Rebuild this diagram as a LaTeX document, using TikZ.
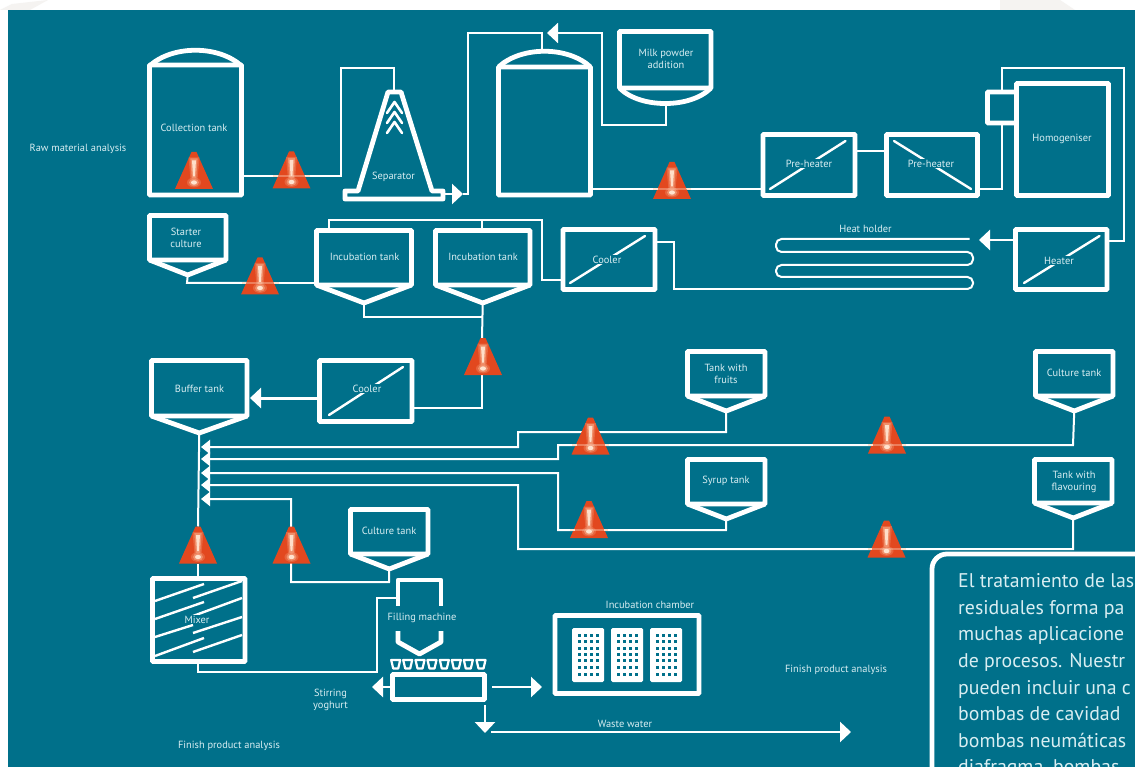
\documentclass[tikz,border=0pt]{standalone}
\usepackage{fontspec}
\setmainfont{PT Sans}
\usetikzlibrary{arrows.meta}
\pgfdeclarelayer{back}
\pgfdeclarelayer{pipes}
\pgfsetlayers{back,pipes,main}
\definecolor{teal0}{HTML}{00708A}
\definecolor{warnred}{HTML}{E2481F}
\definecolor{warnglow}{HTML}{F39A76}
\definecolor{peach}{HTML}{FFE3CF}
\definecolor{txt}{HTML}{D9EEF2}
\definecolor{smear}{HTML}{F5F3F1}
\newcommand{\warnart}{%
  \begin{scope}[shift={(path picture bounding box.center)}]
    \fill[warnred] (-2.5,-18.5)--(2.5,-18.5)--(19,18.5)--(-19,18.5)--cycle;
    \fill[warnglow,opacity=.35] (-5.5,-13)--(5.5,-13)--(3.5,9)--(-3.5,9)--cycle;
    \fill[warnglow,opacity=.8] (-3.6,-12)--(3.6,-12)--(2.2,8)--(-2.2,8)--cycle;
    \fill[peach,opacity=.95] (-2,-10)--(2,-10)--(.9,6)--(-.9,6)--cycle;
    \fill[warnglow,opacity=.35] (0,12) ellipse (7 and 5);
    \fill[warnglow,opacity=.8] (0,12) ellipse (5 and 3.8);
    \fill[peach] (0,12) ellipse (3 and 2.2);
  \end{scope}}
\newcommand{\hopper}[2]{\draw[wall] (#1.south west) -- ([yshift=-#2pt]#1.south) coordinate (#1-out) -- (#1.south east);}
\newcommand{\wline}[3]{%
  \draw[line width=1.6pt,peach,opacity=.35] (#1,#3) -- (#2,#3);
  \draw[tipmark] (#1,#3) -- +(4.5,0);
  \draw[tipmark] (#2,#3) -- +(-4.5,0);}
\tikzset{
  wall/.style={draw=white,line width=4.8pt,line join=round},
  pipe/.style={draw=white,line width=2pt,line join=miter},
  flow/.style={pipe,-{Triangle[length=11pt,width=20pt]}},
  flowsmall/.style={pipe,-{Triangle[length=9pt,width=14pt]}},
  vessel/.style={draw=white,line width=4.8pt,rounded corners=0.8pt,inner sep=0pt,outer sep=0pt},
  lbl/.style={text=txt,font=\fontsize{10.4}{12}\selectfont,align=center,inner sep=1.2pt},
  lblgap/.style={lbl,fill=teal0},
  diag/.style={draw=white,line width=2.4pt,line cap=round},
  warn/.style={minimum width=38pt,minimum height=37pt,inner sep=0pt,outer sep=0pt,path picture={\warnart}},
  tipmark/.style={draw=peach,line width=2.6pt},
  cup/.style={draw=white,line width=2.2pt,line join=round},
}
\begin{document}
\begin{tikzpicture}[x=1pt,y=-1pt]
\useasboundingbox (0,0) rectangle (1135,767);
\clip (0,0) rectangle (1135,767);
\begin{pgfonlayer}{back}
  \fill[white] (0,0) rectangle (1135,767);
  \fill[smear] (0,10) -- (12,4) -- (48,0) -- (30,10) -- cycle;
  \fill[smear] (1000,0) -- (1060,0) -- (1075,10) -- (1000,10) -- cycle;
  \fill[teal0] (8,10) rectangle (1135,767);
\end{pgfonlayer}

% ---- vessels
\node[vessel,minimum width=92pt,minimum height=130pt] (ct) at (195.5,130) {};
\draw[wall] (149.5,66) .. controls (172,45) and (219,45) .. (241.5,66);
\node[vessel,minimum width=92pt,minimum height=128pt] (mt) at (544.5,131) {};
\draw[wall] (498.5,67) .. controls (521,46) and (568,46) .. (590.5,67);
\coordinate (mttop) at (542,49);
\node[vessel,minimum width=91.5pt,minimum height=56.5pt] (milk) at (665.25,59.75) {};
\draw[wall] (milk.south west) .. controls (640,108.7) and (690.5,108.7) .. (milk.south east);
\coordinate (milkout) at (666,104);
\node[vessel,minimum width=92pt,minimum height=61pt] (ph1) at (809,165) {};
\draw[diag] (770,189) -- (845.5,141);
\node[vessel,minimum width=91pt,minimum height=61pt] (ph2) at (932,165) {};
\draw[diag] (894,141) -- (971,189);
\node[vessel,minimum width=29pt,minimum height=31pt] (hbox) at (1002,107.5) {};
\node[vessel,minimum width=92pt,minimum height=112pt] (homo) at (1062.5,139.5) {};
\node[vessel,minimum width=91.5pt,minimum height=60pt] (heater) at (1061.25,259.5) {};
\draw[diag] (1024,283) -- (1099.5,236);
\node[vessel,minimum width=92pt,minimum height=60pt] (cool1) at (609,259.5) {};
\draw[diag] (570,283) -- (645,236);
\node[vessel,minimum width=95pt,minimum height=54.5pt] (inc1) at (364,257.75) {};
\hopper{inc1}{18}
\node[vessel,minimum width=94.5pt,minimum height=54.5pt] (inc2) at (482.75,257.75) {};
\hopper{inc2}{18}
\node[vessel,minimum width=76.5pt,minimum height=44.5pt] (start) at (187.75,237.75) {};
\hopper{start}{15}
\node[vessel,minimum width=95.5pt,minimum height=55.5pt] (buf) at (199.25,388.25) {};
\hopper{buf}{17}
\node[vessel,minimum width=92.5pt,minimum height=61pt] (cool2) at (365.75,391) {};
\draw[diag] (329,415) -- (403,367);
\node[vessel,minimum width=77.5pt,minimum height=44.5pt] (cultb) at (389.25,531.75) {};
\hopper{cultb}{15}
\node[vessel,minimum width=77.5pt,minimum height=44.5pt] (fruit) at (726.25,373.75) {};
\hopper{fruit}{15}
\node[vessel,minimum width=77.5pt,minimum height=44.5pt] (cultr) at (1074.25,373.75) {};
\hopper{cultr}{15}
\node[vessel,minimum width=77.5pt,minimum height=44.5pt] (syrup) at (726.25,481.75) {};
\hopper{syrup}{15}
\node[vessel,minimum width=77.5pt,minimum height=43.5pt] (flav) at (1073.25,481.25) {};
\hopper{flav}{15}
\node[vessel,minimum width=92.5pt,minimum height=83pt] (mixer) at (198.75,620) {};
\foreach \xa/\ya/\xb/\yb in {155/601/204/584,155/619/204/602,155/637/193/625,155/656/204/638,
                             193/598/242/581,193/616/242/598,193/633/242/617,193/652/242/635}
  \draw[draw=white,line width=2.4pt] (\xa,\ya) -- (\xb,\yb);
\node[vessel,minimum width=92pt,minimum height=25pt] (conv) at (438.5,687) {};
\node[vessel,minimum width=144pt,minimum height=78pt] (chamber) at (627,654.5) {};

% separator
\draw[wall] (388,92) -- (401,92) -- (432,191) -- (443,191) -- (443,199) -- (345,199) -- (345,191) -- (358,191) -- cycle;
\foreach \y in {102,112,122}
  \draw[draw=white,line width=2.6pt,line cap=round,line join=round] (387,\y+11) -- (394.5,\y) -- (402,\y+11);
\coordinate (septop) at (394,90);
\coordinate (sepout) at (445,194);

% filling machine
\draw[wall] (398,606) -- (398,580) -- (441,580) -- (441,606);
\draw[wall] (398,631) -- (398,642) -- (419.5,654) -- (441,642) -- (441,631);
\coordinate (fillin) at (398,598);
\foreach \x in {395.7,407.7,420,432,444.3,456.3,468.3,481}
  \draw[cup] (\x-4.5,660) -- (\x+4.5,660) -- (\x+2.5,668.5) -- (\x-2.5,668.5) -- cycle;

% racks
\foreach \rx in {572,611,650}{
  \fill[white,rounded corners=1.5pt] (\rx,628) rectangle (\rx+32,682);
  \foreach \cx in {5.5,11.5,17.8,23.8}
    \foreach \cy in {635,641.3,648,654.3,660.7,667.3,674}
      \fill[teal0] (\rx+\cx,\cy-1.5) rectangle (\rx+\cx+3,\cy+1.5);
}

% warnings
\node[warn] (w1) at (194,170.5) {};
\node[warn] (w2) at (291.5,170) {};
\node[warn] (w3) at (672,180.5) {};
\node[warn] (w4) at (483,356.5) {};
\node[warn] (w5) at (260,276) {};
\node[warn] (w6) at (198,545) {};
\node[warn] (w7) at (590.5,436) {};
\node[warn] (w8) at (887,435) {};
\node[warn] (w9) at (589,519.5) {};
\node[warn] (w10) at (886.5,539) {};
\node[warn] (w11) at (291.5,545) {};
\wline{273}{310}{176}
\wline{653}{691}{189}
\wline{241.5}{278.5}{283}
\wline{572}{609}{445}
\draw[draw=white,line width=2.8pt] (572,432) -- (581,432) (600,432) -- (609,432);
\wline{868}{906}{445}
\wline{570}{608}{530}
\wline{867.5}{905.5}{549}

% junction coordinates on the main line
\coordinate (j1) at (201,447);
\coordinate (j2) at (201,459);
\coordinate (j3) at (201,473);
\coordinate (j4) at (201,485);
\coordinate (j5) at (201,499);
\coordinate (heatin) at (979,240);
\coordinate (coilend) at (969.5,239);
\coordinate (sepmark) at (463,194);
\coordinate (tankmark) at (547,33);
\coordinate (waste0) at (491,732);
\coordinate (waste1) at (851,732);
\coordinate (conr) at (492,687);
\coordinate (conr1) at (542,687);
\coordinate (cond) at (485,705);
\coordinate (cond1) at (485,733);
\coordinate (conl) at (372,687);
\coordinate (coilmid) at (800,289);

% ---- connectors
\begin{pgfonlayer}{pipes}
  \draw[pipe] (ct.east |- 0,176) -- (w2.center |- 0,176);
  \draw[pipe] (w2.center |- 0,176) -- (341,176) -- (341,68) -- (394,68) -- (septop);
  \draw[flow,line width=2.6pt] (sepout) -- (sepmark);
  \draw[pipe] (sepmark) -- (468,194) -- (468,33) -- (542,33) -- (mttop);
  \draw[flow] (milkout) -- (666,125) -- (602,125) -- (602,33) -- (tankmark);
  \draw[pipe] (mt.east |- 0,189) -- (w3.center |- 0,189);
  \draw[pipe] (w3.center |- 0,189) -- (ph1.west |- 0,189);
  \draw[pipe] (ph1.east |- 0,151) -- (ph2.west |- 0,151);
  \draw[pipe] (ph2.east |- 0,189) -- (1001.5,189) -- (hbox.south -| 1001.5,0);
  \draw[pipe] (hbox.north -| 1001.5,0) -- (1001.5,68) -- (1124,68) -- (1124,241) -- (heater.east |- 0,241);
  \draw[flow,line width=2.6pt] (heater.west |- heatin) -- (heatin);
  \draw[pipe,rounded corners=5.5pt] (coilend) -- (776,239) -- (776,252) -- (973,252) -- (973,265) -- (776,265) -- (776,277) -- (973,277) -- (973,289) -- (coilmid);
  \draw[pipe] (coilmid) -- (674,289) -- (674,242) -- (cool1.east |- 0,242);
  \draw[pipe] (cool1.west |- 0,280) -- (542,280) -- (542,220) -- (329,220) -- (329,228);
  \draw[pipe] (482,220) -- (inc2.north -| 482,0);
  \draw[pipe] (start-out) -- (187,283) -- (w5.center |- 0,283);
  \draw[pipe] (w5.center |- 0,283) -- (inc1.west |- 0,283);
  \draw[pipe] (inc1-out) -- (364,317) -- (482,317);
  \draw[pipe] (inc2-out) -- (w4.north -| 482,0);
  \draw[pipe] (w4.south -| 482,0) -- (482,408) -- (cool2.east |- 0,408);
  \draw[flow,line width=3pt] (cool2.west |- 0,398) -- (250,398);
  \draw[pipe] (buf-out) -- (w6.north -| 198,0);
  \draw[pipe] (w6.south -| 198,0) -- (mixer.north -| 198,0);
  \draw[flowsmall] (fruit-out) -- (726,432) -- (518,432) -- (518,447) -- (j1);
  \draw[flowsmall] (cultr-out) -- (1073,445) -- (558,445) -- (558,459) -- (j2);
  \draw[flowsmall] (syrup-out) -- (726,530) -- (558,530) -- (558,473) -- (j3);
  \draw[flowsmall] (flav-out) -- (1073,549) -- (518,549) -- (518,485) -- (j4);
  \draw[flowsmall] (cultb-out) -- (389,582) -- (291,582) -- (291,499) -- (j5);
  \draw[pipe] (mixer.south -| 198,0) -- (198,672) -- (377,672) -- (377,598) -- (fillin);
  \draw[flow,line width=2.8pt] (conv.west |- conl) -- (conl);
  \draw[flow,line width=2.6pt] (conr) -- (conr1);
  \draw[flow,line width=2.6pt] (cond) -- (cond1);
  \draw[flow,line width=2.6pt] (waste0) -- (waste1);
\end{pgfonlayer}

% ---- labels
\node[lbl] (t1) at (194,128) {Collection tank};
\node[lbl] (t2) at (393.5,176.5) {Separator};
\node[lbl] (t3) at (666,58.5) {Milk powder\\addition};
\node[lblgap] (t4) at (809,163.5) {Pre-heater};
\node[lblgap] (t5) at (931,163.5) {Pre-heater};
\node[lbl] (t6) at (1062,138.5) {Homogeniser};
\node[lbl] (t7) at (865.5,228.5) {Heat holder};
\node[lblgap] (t8) at (1059,260.5) {Heater};
\node[lblgap] (t9) at (607,259.5) {Cooler};
\node[lbl] (t10) at (364.5,256.5) {Incubation tank};
\node[lbl] (t11) at (483,256.5) {Incubation tank};
\node[lbl] (t12) at (186,237.5) {Starter\\culture};
\node[lbl] (t13) at (199.5,388.5) {Buffer tank};
\node[lblgap] (t14) at (367,388.5) {Cooler};
\node[lbl] (t15) at (389,530.5) {Culture tank};
\node[lbl] (t16) at (726,373.5) {Tank with\\fruits};
\node[lbl] (t17) at (726,480.5) {Syrup tank};
\node[lbl] (t18) at (1074,372.5) {Culture tank};
\node[lbl] (t19) at (1074,481.5) {Tank with\\flavouring};
\node[lblgap] (t20) at (197,619.5) {Mixer};
\node[lbl,fill=teal0] (t21) at (422,617.5) {Filling machine};
\node[lbl] (t22) at (330.5,700) {Stirring\\yoghurt};
\node[lbl] (t23) at (650,604.5) {Incubation chamber};
\node[lbl] (t24) at (625,723.5) {Waste water};
\node[lbl] (t25) at (78,148.5) {Raw material analysis};
\node[lbl] (t26) at (836,669.5) {Finish product analysis};
\node[lbl] (t27) at (229,745.5) {Finish product analysis};

% ---- text panel
\draw[wall,rounded corners=15pt] (1145,554) -- (932,554) -- (932,780);
\node[anchor=north west,inner sep=0pt,align=left,text=txt,font=\fontsize{19.8}{26.6}\selectfont] (panel) at (958,573.5)
  {El tratamiento de las\\residuales forma pa\\muchas aplicacione\\de procesos. Nuestr\\pueden incluir una c\\bombas de cavidad\\bombas neumáticas\\diafragma, bombas};
\end{tikzpicture}
\end{document}
